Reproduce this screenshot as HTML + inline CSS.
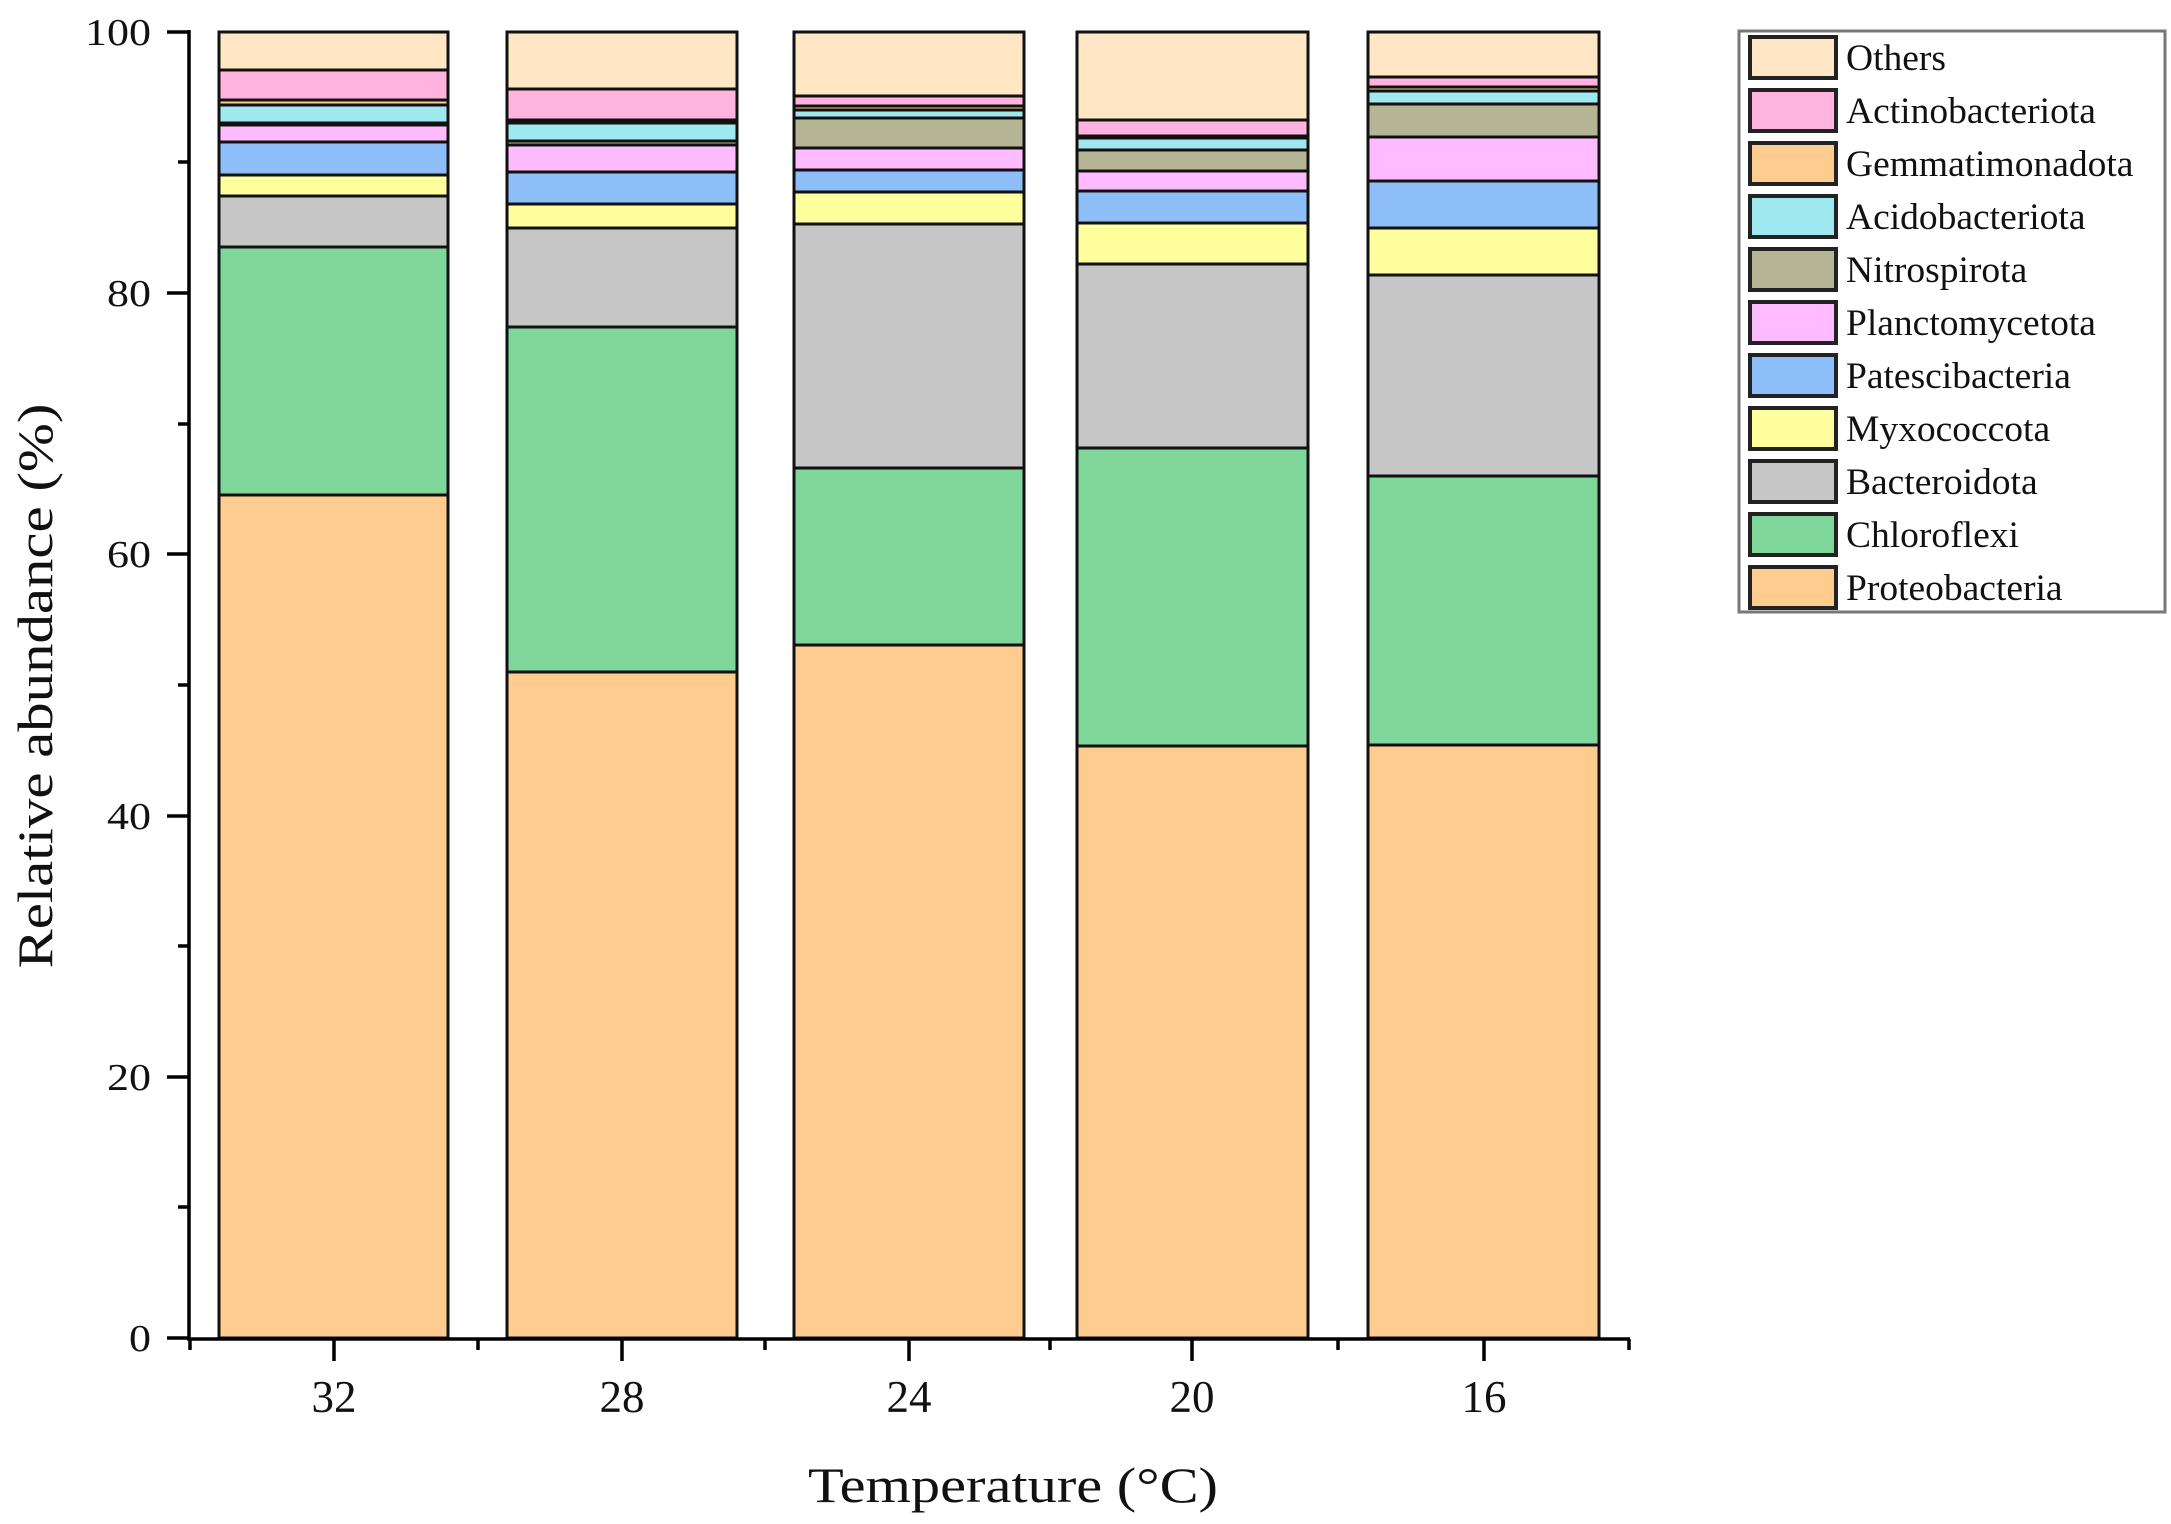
<!DOCTYPE html>
<html><head><meta charset="utf-8"><style>
html,body{margin:0;padding:0;background:#fff;}
svg{display:block;}
text{font-family:"Liberation Serif",serif;fill:#111;}
</style></head><body>
<svg width="2171" height="1524" viewBox="0 0 2171 1524" xmlns="http://www.w3.org/2000/svg">
<g stroke="#111" stroke-width="3">
<g transform="translate(219,0)">
<rect x="0" y="32" width="229" height="38" fill="#FFE6C4"/>
<rect x="0" y="70" width="229" height="30" fill="#FFB3DE"/>
<rect x="0" y="100" width="229" height="5" fill="#FFCC8F"/>
<rect x="0" y="105" width="229" height="18" fill="#A0E8F0"/>
<rect x="0" y="123" width="229" height="2" fill="#B5B596"/>
<rect x="0" y="125" width="229" height="17" fill="#FFBBFF"/>
<rect x="0" y="142" width="229" height="33" fill="#8DBEF7"/>
<rect x="0" y="175" width="229" height="21" fill="#FFFF9E"/>
<rect x="0" y="196" width="229" height="51" fill="#C6C6C6"/>
<rect x="0" y="247" width="229" height="248" fill="#7ED69A"/>
<rect x="0" y="495" width="229" height="843" fill="#FFCC8F"/>
</g>
<g transform="translate(507,0)">
<rect x="0" y="32" width="230" height="57" fill="#FFE6C4"/>
<rect x="0" y="89" width="230" height="31" fill="#FFB3DE"/>
<rect x="0" y="120" width="230" height="3" fill="#FFCC8F"/>
<rect x="0" y="123" width="230" height="18" fill="#A0E8F0"/>
<rect x="0" y="141" width="230" height="4" fill="#B5B596"/>
<rect x="0" y="145" width="230" height="27" fill="#FFBBFF"/>
<rect x="0" y="172" width="230" height="32" fill="#8DBEF7"/>
<rect x="0" y="204" width="230" height="24" fill="#FFFF9E"/>
<rect x="0" y="228" width="230" height="99" fill="#C6C6C6"/>
<rect x="0" y="327" width="230" height="345" fill="#7ED69A"/>
<rect x="0" y="672" width="230" height="666" fill="#FFCC8F"/>
</g>
<g transform="translate(794,0)">
<rect x="0" y="32" width="230" height="64" fill="#FFE6C4"/>
<rect x="0" y="96" width="230" height="10" fill="#FFB3DE"/>
<rect x="0" y="106" width="230" height="4" fill="#FFCC8F"/>
<rect x="0" y="110" width="230" height="8" fill="#A0E8F0"/>
<rect x="0" y="118" width="230" height="30" fill="#B5B596"/>
<rect x="0" y="148" width="230" height="22" fill="#FFBBFF"/>
<rect x="0" y="170" width="230" height="22" fill="#8DBEF7"/>
<rect x="0" y="192" width="230" height="32" fill="#FFFF9E"/>
<rect x="0" y="224" width="230" height="244" fill="#C6C6C6"/>
<rect x="0" y="468" width="230" height="177" fill="#7ED69A"/>
<rect x="0" y="645" width="230" height="693" fill="#FFCC8F"/>
</g>
<g transform="translate(1077,0)">
<rect x="0" y="32" width="231" height="88" fill="#FFE6C4"/>
<rect x="0" y="120" width="231" height="16" fill="#FFB3DE"/>
<rect x="0" y="136" width="231" height="2" fill="#FFCC8F"/>
<rect x="0" y="138" width="231" height="12" fill="#A0E8F0"/>
<rect x="0" y="150" width="231" height="21" fill="#B5B596"/>
<rect x="0" y="171" width="231" height="20" fill="#FFBBFF"/>
<rect x="0" y="191" width="231" height="32" fill="#8DBEF7"/>
<rect x="0" y="223" width="231" height="41" fill="#FFFF9E"/>
<rect x="0" y="264" width="231" height="184" fill="#C6C6C6"/>
<rect x="0" y="448" width="231" height="298" fill="#7ED69A"/>
<rect x="0" y="746" width="231" height="592" fill="#FFCC8F"/>
</g>
<g transform="translate(1368,0)">
<rect x="0" y="32" width="231" height="45" fill="#FFE6C4"/>
<rect x="0" y="77" width="231" height="10" fill="#FFB3DE"/>
<rect x="0" y="87" width="231" height="4" fill="#FFCC8F"/>
<rect x="0" y="91" width="231" height="13" fill="#A0E8F0"/>
<rect x="0" y="104" width="231" height="33" fill="#B5B596"/>
<rect x="0" y="137" width="231" height="44" fill="#FFBBFF"/>
<rect x="0" y="181" width="231" height="47" fill="#8DBEF7"/>
<rect x="0" y="228" width="231" height="47" fill="#FFFF9E"/>
<rect x="0" y="275" width="231" height="201" fill="#C6C6C6"/>
<rect x="0" y="476" width="231" height="269" fill="#7ED69A"/>
<rect x="0" y="745" width="231" height="593" fill="#FFCC8F"/>
</g>
</g>
<g stroke="#000" stroke-width="3.5" fill="none">
<line x1="189" y1="30" x2="189" y2="1340"/>
<line x1="187" y1="1339" x2="1630" y2="1339"/>
<line x1="167" y1="32" x2="189" y2="32"/>
<line x1="167" y1="293" x2="189" y2="293"/>
<line x1="167" y1="554" x2="189" y2="554"/>
<line x1="167" y1="816" x2="189" y2="816"/>
<line x1="167" y1="1077" x2="189" y2="1077"/>
<line x1="167" y1="1338" x2="189" y2="1338"/>
<line x1="178" y1="162" x2="189" y2="162"/>
<line x1="178" y1="424" x2="189" y2="424"/>
<line x1="178" y1="685" x2="189" y2="685"/>
<line x1="178" y1="946" x2="189" y2="946"/>
<line x1="178" y1="1207" x2="189" y2="1207"/>
<line x1="334" y1="1339" x2="334" y2="1361"/>
<line x1="622" y1="1339" x2="622" y2="1361"/>
<line x1="909" y1="1339" x2="909" y2="1361"/>
<line x1="1192" y1="1339" x2="1192" y2="1361"/>
<line x1="1484" y1="1339" x2="1484" y2="1361"/>
<line x1="190" y1="1339" x2="190" y2="1350"/>
<line x1="478" y1="1339" x2="478" y2="1350"/>
<line x1="765" y1="1339" x2="765" y2="1350"/>
<line x1="1050" y1="1339" x2="1050" y2="1350"/>
<line x1="1338" y1="1339" x2="1338" y2="1350"/>
<line x1="1629" y1="1339" x2="1629" y2="1350"/>
</g>
<g font-size="38" text-anchor="end">
<text x="151" y="45" textLength="66" lengthAdjust="spacingAndGlyphs">100</text>
<text x="151" y="306" textLength="44" lengthAdjust="spacingAndGlyphs">80</text>
<text x="151" y="567" textLength="44" lengthAdjust="spacingAndGlyphs">60</text>
<text x="151" y="829" textLength="44" lengthAdjust="spacingAndGlyphs">40</text>
<text x="151" y="1090" textLength="44" lengthAdjust="spacingAndGlyphs">20</text>
<text x="151" y="1351" textLength="22" lengthAdjust="spacingAndGlyphs">0</text>
</g>
<g font-size="45" text-anchor="middle">
<text x="334" y="1412">32</text>
<text x="622" y="1412">28</text>
<text x="909" y="1412">24</text>
<text x="1192" y="1412">20</text>
<text x="1484" y="1412">16</text>
</g>
<text x="1013" y="1502" font-size="50" text-anchor="middle" textLength="410" lengthAdjust="spacingAndGlyphs">Temperature (°C)</text>
<text transform="translate(52,686) rotate(-90)" font-size="50" text-anchor="middle" textLength="565" lengthAdjust="spacingAndGlyphs">Relative abundance (%)</text>
<rect x="1739" y="31" width="426" height="581" fill="#fff" stroke="#777" stroke-width="3"/>
<g stroke="#222" stroke-width="4">
<rect x="1750" y="37" width="86" height="41" fill="#FFE6C4"/>
<rect x="1750" y="90" width="86" height="41" fill="#FFB3DE"/>
<rect x="1750" y="143" width="86" height="41" fill="#FFCC8F"/>
<rect x="1750" y="196" width="86" height="41" fill="#A0E8F0"/>
<rect x="1750" y="249" width="86" height="41" fill="#B5B596"/>
<rect x="1750" y="302" width="86" height="41" fill="#FFBBFF"/>
<rect x="1750" y="355" width="86" height="41" fill="#8DBEF7"/>
<rect x="1750" y="408" width="86" height="41" fill="#FFFF9E"/>
<rect x="1750" y="461" width="86" height="41" fill="#C6C6C6"/>
<rect x="1750" y="514" width="86" height="41" fill="#7ED69A"/>
<rect x="1750" y="567" width="86" height="41" fill="#FFCC8F"/>
</g>
<g font-size="37.5">
<text x="1846" y="70">Others</text>
<text x="1846" y="123">Actinobacteriota</text>
<text x="1846" y="176">Gemmatimonadota</text>
<text x="1846" y="229">Acidobacteriota</text>
<text x="1846" y="282">Nitrospirota</text>
<text x="1846" y="335">Planctomycetota</text>
<text x="1846" y="388">Patescibacteria</text>
<text x="1846" y="441">Myxococcota</text>
<text x="1846" y="494">Bacteroidota</text>
<text x="1846" y="547">Chloroflexi</text>
<text x="1846" y="600">Proteobacteria</text>
</g>
</svg>
</body></html>
